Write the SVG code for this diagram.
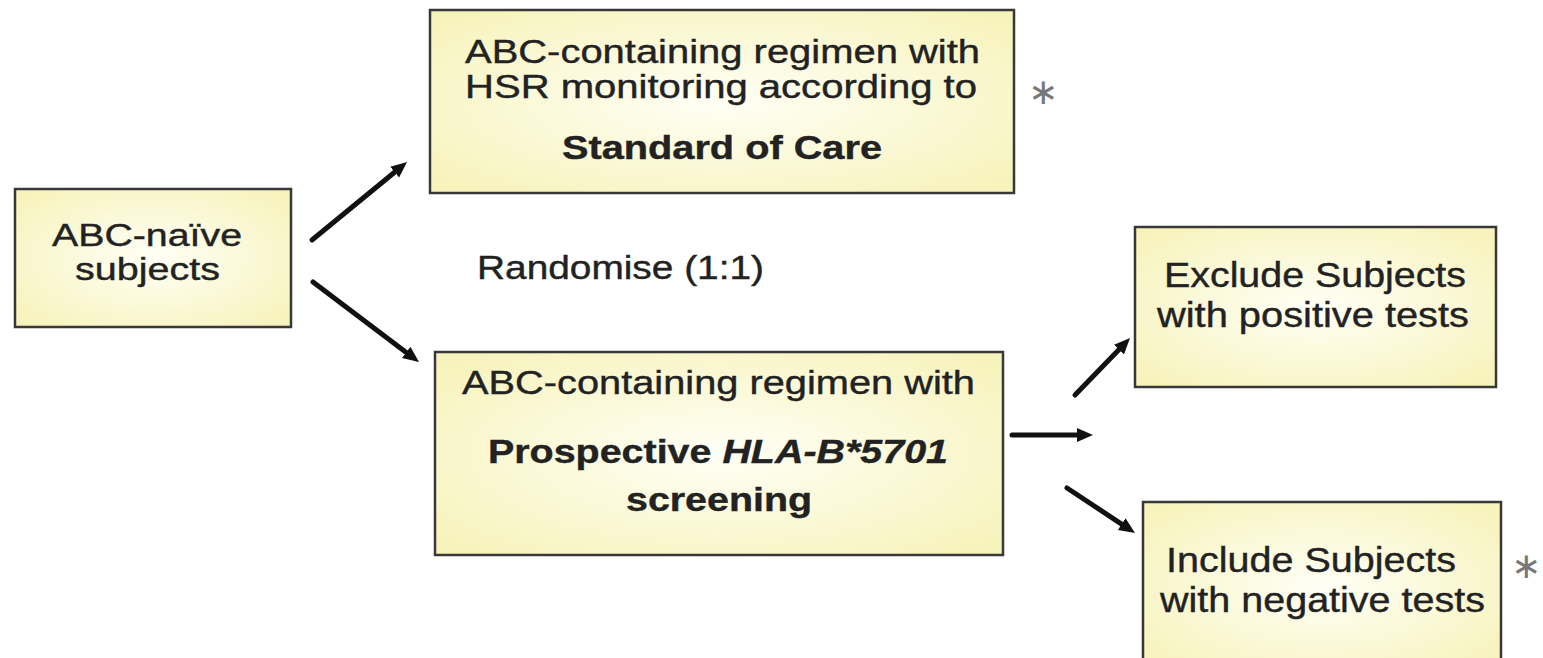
<svg xmlns="http://www.w3.org/2000/svg" width="1543" height="658" viewBox="0 0 1543 658">
<defs>
<radialGradient id="fill" cx="50%" cy="50%" r="65%">
<stop offset="0" stop-color="#FFFFF6"/>
<stop offset="1" stop-color="#F7F3BC"/>
</radialGradient>
<marker id="ah" markerUnits="userSpaceOnUse" markerWidth="18" markerHeight="16" refX="3" refY="8" orient="auto">
<path d="M0,1 L16,8 L0,15 z" fill="#111"/>
</marker>
<style>
.box{fill:url(#fill);stroke:#383838;stroke-width:2.5}
.t{font-family:"Liberation Sans",Arial,sans-serif;font-size:33px;fill:#222;stroke:#222;stroke-width:0.4}
.s{font-size:31px}
.l{font-size:35px}
.b{font-weight:bold}
.ast{font-family:"DejaVu Sans",sans-serif;font-size:36px;fill:#777;text-anchor:middle}
.c{stroke:#111;stroke-width:5;stroke-linecap:round;fill:none;marker-end:url(#ah)}
</style>
</defs>
<rect width="1543" height="658" fill="#fff"/>
<g id="connectors">
<line class="c" x1="312" y1="240" x2="397" y2="170.3"/>
<line class="c" x1="313" y1="282" x2="408.6" y2="354.2"/>
<line class="c" x1="1012" y1="435" x2="1080" y2="435"/>
<line class="c" x1="1075" y1="395" x2="1121" y2="347.4"/>
<line class="c" x1="1067" y1="488" x2="1124.2" y2="525.8"/>
</g>
<g id="naive">
<rect class="box" x="15" y="189" width="276" height="138"/>
<text class="t s" x="52" y="246" textLength="190" lengthAdjust="spacingAndGlyphs">ABC-naïve</text>
<text class="t s" x="75" y="280" textLength="145" lengthAdjust="spacingAndGlyphs">subjects</text>
</g>
<g id="standard">
<rect class="box" x="430" y="10" width="584" height="183"/>
<text class="t" x="465" y="63" textLength="515" lengthAdjust="spacingAndGlyphs">ABC-containing regimen with</text>
<text class="t" x="465" y="98" textLength="512" lengthAdjust="spacingAndGlyphs">HSR monitoring according to</text>
<text class="t b" x="562" y="159" textLength="320" lengthAdjust="spacingAndGlyphs">Standard of Care</text>
<text class="ast" x="1043" y="104">∗</text>
</g>
<text id="randomise" class="t" x="477" y="279" textLength="287" lengthAdjust="spacingAndGlyphs">Randomise (1:1)</text>
<g id="screening">
<rect class="box" x="435" y="352" width="568" height="203"/>
<text class="t" x="462" y="394" textLength="513" lengthAdjust="spacingAndGlyphs">ABC-containing regimen with</text>
<text class="t b" x="488" y="463" textLength="460" lengthAdjust="spacingAndGlyphs">Prospective <tspan font-style="italic">HLA-B*5701</tspan></text>
<text class="t b" x="626" y="511" textLength="186" lengthAdjust="spacingAndGlyphs">screening</text>
</g>
<g id="exclude">
<rect class="box" x="1135" y="227" width="361" height="160"/>
<text class="t l" x="1164" y="287" textLength="302" lengthAdjust="spacingAndGlyphs">Exclude Subjects</text>
<text class="t l" x="1157" y="327" textLength="312" lengthAdjust="spacingAndGlyphs">with positive tests</text>
</g>
<g id="include">
<rect class="box" x="1143" y="502" width="358" height="170"/>
<text class="t l" x="1166" y="572" textLength="290" lengthAdjust="spacingAndGlyphs">Include Subjects</text>
<text class="t l" x="1160" y="612" textLength="325" lengthAdjust="spacingAndGlyphs">with negative tests</text>
<text class="ast" x="1526" y="578">∗</text>
</g>
</svg>
